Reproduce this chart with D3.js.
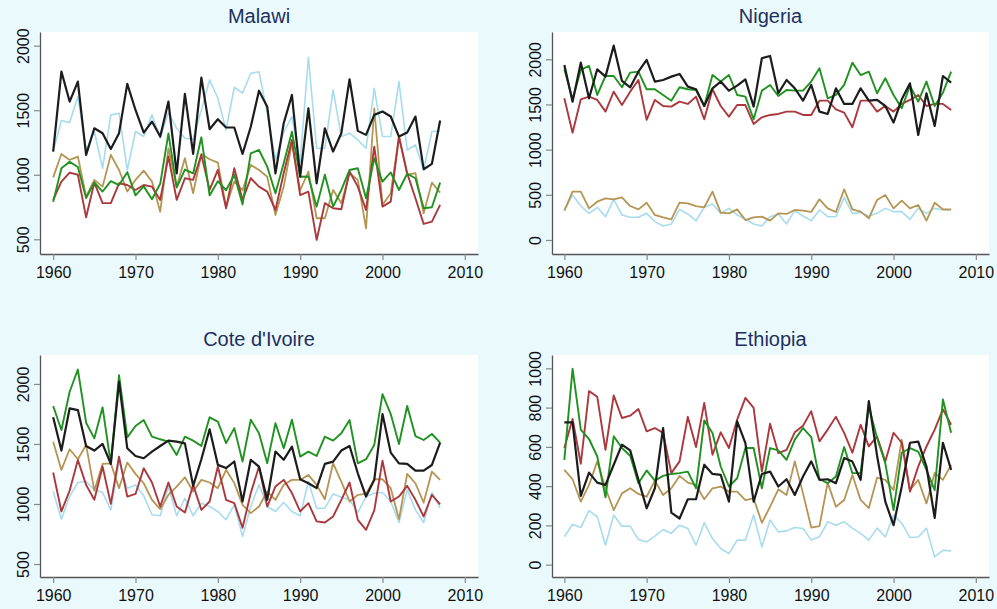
<!DOCTYPE html>
<html><head><meta charset="utf-8">
<script src="https://cdn.jsdelivr.net/npm/d3@7"></script>
<style>
html,body{margin:0;padding:0;background:#eaf9fc;}
svg{display:block;font-family:"Liberation Sans",Arial,Helvetica,sans-serif;}
</style></head><body>
<svg id="chart" width="997" height="609"></svg>
<script>
const years = [1960,1961,1962,1963,1964,1965,1966,1967,1968,1969,
  1970,1971,1972,1973,1974,1975,1976,1977,1978,1979,
  1980,1981,1982,1983,1984,1985,1986,1987,1988,1989,
  1990,1991,1992,1993,1994,1995,1996,1997,1998,1999,
  2000,2001,2002,2003,2004,2005,2006,2007];
const countries = ["Malawi","Nigeria","Cote d'Ivoire","Ethiopia"];
const xTicks = [1960,1970,1980,1990,2000,2010];
const yTicksMalawi = [500,1000,1500,2000];
const yTicksNigeria = [0,500,1000,1500,2000];
const yTicksCote = [500,1000,1500,2000];
const yTicksEthiopia = [0,200,400,600,800,1000];

// Malawi
const malawiBlue = [1180,1420,1404,1606,1192,1335,1050,1464,1477,1037, 1335,1296,1464,1283,1482,1360,1283,1275,1502,1735, 1593,1347,1678,1632,1786,1798,1480,1114,1330,1450, 1100,1910,1205,1205,1658,1296,1322,1270,1205,1670, 1296,1296,1722,1192,1231,1037,1335,1340];
const malawiGold = [980,1161,1115,1141,830,960,908,1154,1037,870, 960,1032,947,714,1205,908,1128,857,1161,1120, 1094,753,947,880,1076,1037,985,688,908,1244, 880,1024,663,663,882,779,1012,960,585,1515, 766,857,1296,1000,1012,702,939,862];
const malawiRed = [805,947,1017,1000,670,939,780,780,934,921, 882,921,908,805,1141,805,973,960,1154,882, 1037,740,1050,805,973,908,869,727,1011,1269, 843,869,495,780,740,733,1025,908,727,1218, 753,792,1296,1012,818,619,637,766];
const malawiGreen = [790,1050,1100,1060,820,940,870,950,920,1020, 840,910,810,930,1320,900,1040,1010,1290,840, 950,880,1000,770,1166,1192,1063,856,1089,1334, 985,986,753,1000,753,882,1037,1050,818,1128, 947,1018,882,1008,973,740,748,939];
const malawiBlack = [1180,1800,1567,1722,1154,1360,1322,1200,1322,1704, 1502,1327,1412,1296,1567,1010,1627,1161,1753,1353, 1430,1366,1366,1161,1372,1651,1527,1011,1399,1618, 985,1515,934,1360,1180,1322,1740,1340,1309,1464, 1490,1451,1296,1327,1451,1043,1084,1420];

// Nigeria
const nigeriaBlue = [325,498,376,295,362,258,450,277,251,251, 295,203,155,177,339,288,214,362,399,295, 350,277,229,177,155,258,288,177,325,266, 214,332,258,258,472,295,303,266,295,350, 314,314,229,350,295,350,332,332];
const nigeriaGold = [325,535,535,350,424,461,450,472,376,339, 413,277,251,229,413,406,376,362,535,303, 295,339,221,251,258,214,295,288,332,325, 310,450,350,310,561,339,314,240,443,498, 350,435,350,387,214,413,339,339];
const nigeriaRed = [1568,1188,1557,1587,1550,1421,1642,1494,1642,1771, 1330,1550,1483,1476,1531,1506,1587,1336,1668,1483, 1365,1494,1494,1284,1358,1384,1395,1421,1421,1384, 1384,1542,1542,1446,1410,1247,1542,1542,1421,1483, 1421,1506,1550,1605,1483,1506,1506,1439];
const nigeriaGreen = [1889,1557,1882,1926,1605,1815,1815,1690,1852,1863, 1668,1668,1605,1542,1690,1668,1660,1483,1826,1753, 1826,1605,1587,1336,1653,1716,1594,1660,1653,1653, 1753,1900,1568,1605,1716,1963,1826,1863,1624,1790, 1605,1458,1705,1531,1753,1483,1631,1863];
const nigeriaBlack = [1937,1531,1963,1568,1889,1808,2151,1760,1690,1863, 1993,1753,1771,1808,1838,1697,1668,1483,1679,1753, 1653,1708,1778,1476,2011,2037,1624,1771,1679,1542, 1716,1421,1395,1679,1506,1506,1679,1542,1550,1483, 1299,1557,1734,1162,1624,1262,1815,1742];

// Cote d'Ivoire
const coteBlue = [1104,874,1062,1179,1187,1118,1096,951,1353,1132, 1159,1068,910,902,1145,902,1048,902,1007,979, 938,869,993,730,979,1160,979,938,1012,938, 902,1187,965,965,1084,1057,1035,929,1062,1090, 1096,1021,846,1118,951,846,1096,965];
const coteGold = [1519,1284,1456,1373,1492,1112,1334,1339,1132,1345, 1251,1173,1035,957,1076,1145,1223,1104,1201,1179, 1132,1285,1174,993,924,979,1104,1035,1160,1201, 1201,1242,1159,1040,1339,1187,1021,1076,1084,1206, 1206,1132,874,1251,1173,1012,1270,1201];
const coteRed = [1262,938,1112,1367,1159,1035,1312,1001,1395,1062, 1084,1298,1179,979,1179,979,929,1159,951,1021, 1312,1035,1007,802,1091,1312,979,1146,1201,1091, 938,1007,855,846,896,1035,1179,868,785,946, 1361,1021,1062,1151,1035,896,1076,996];
const coteGreen = [1816,1616,1935,2120,1677,1547,1805,1334,2073,1555, 1650,1699,1561,1539,1519,1409,1561,1528,1483,1722, 1686,1507,1632,1354,1702,1590,1340,1673,1465,1702, 1395,1436,1400,1561,1528,1589,1699,1339,1373,1492, 1915,1749,1500,1816,1566,1533,1583,1511];
const coteBlack = [1722,1445,1796,1782,1483,1445,1500,1334,2018,1464, 1400,1381,1436,1483,1528,1519,1505,1151,1373,1622, 1326,1299,1354,1021,1368,1312,1035,1437,1368,1478, 1206,1173,1132,1334,1353,1445,1483,1256,1062,1201, 1749,1428,1339,1334,1278,1278,1325,1511];

// Ethiopia
const ethiopiaBlue = [142,206,189,275,244,99,253,196,196,128, 116,145,179,159,201,184,99,213,133,82, 56,125,125,253,90,227,167,172,189,184, 125,142,218,201,218,186,159,125,186,141, 252,211,138,141,186,39,73,70];
const ethiopiaGold = [483,435,321,406,526,389,278,363,389,360, 346,428,355,389,452,418,406,333,389,398, 372,372,329,338,213,295,384,355,526,363, 189,196,418,295,329,457,330,288,443,432, 380,637,380,432,312,467,432,508];
const ethiopiaRed = [594,742,514,884,855,585,862,747,759,793, 679,696,671,466,526,753,599,824,560,674, 594,739,850,799,474,718,568,585,674,708, 782,628,688,753,671,570,713,602,653,525, 672,621,372,500,602,688,791,713];
const ethiopiaGreen = [534,998,688,640,551,343,654,594,555,415, 480,428,452,462,466,474,389,735,671,500, 398,440,594,594,389,594,582,534,637,696, 650,435,415,449,599,466,466,806,645,517, 278,570,593,576,483,380,841,672];
const ethiopiaBlack = [725,725,350,469,418,406,509,611,582,432, 287,389,696,265,235,333,333,509,462,457, 321,730,619,321,462,474,398,435,355,449, 526,432,435,415,543,525,432,833,555,321, 201,398,621,627,500,238,621,483];

const colors = {blue:"#a7dcee", gold:"#b49553", red:"#aa383c", green:"#1f921f", black:"#1c1c1c"};
const widths = {blue:1.6, gold:1.8, red:1.9, green:1.9, black:2.2};

const panelData = {
  "Malawi": {blue:malawiBlue, gold:malawiGold, red:malawiRed, green:malawiGreen, black:malawiBlack, yTicks:yTicksMalawi},
  "Nigeria": {blue:nigeriaBlue, gold:nigeriaGold, red:nigeriaRed, green:nigeriaGreen, black:nigeriaBlack, yTicks:yTicksNigeria},
  "Cote d'Ivoire": {blue:coteBlue, gold:coteGold, red:coteRed, green:coteGreen, black:coteBlack, yTicks:yTicksCote},
  "Ethiopia": {blue:ethiopiaBlue, gold:ethiopiaGold, red:ethiopiaRed, green:ethiopiaGreen, black:ethiopiaBlack, yTicks:yTicksEthiopia}
};
const layout = {
  "Malawi": {left:40, right:478, top:32, bottom:254, xDom:[1958.4,2011.6], yDom:[386,2106], titleY:23},
  "Nigeria": {left:552, right:989, top:32, bottom:254, xDom:[1958.5,2011.6], yDom:[-155,2302], titleY:23},
  "Cote d'Ivoire": {left:40, right:478, top:355, bottom:577, xDom:[1958.4,2011.6], yDom:[392,2241], titleY:346},
  "Ethiopia": {left:552, right:989, top:355, bottom:577, xDom:[1958.5,2011.6], yDom:[-63,1068], titleY:346}
};
const drawOrder = ["blue","gold","red","green","black"];

const svg = d3.select("#chart");
svg.append("rect").attr("width",997).attr("height",609).attr("fill","#eaf9fc");

countries.forEach(name => {
  const L = layout[name], D = panelData[name];
  const x = d3.scaleLinear().domain(L.xDom).range([L.left, L.right]);
  const y = d3.scaleLinear().domain(L.yDom).range([L.bottom, L.top]);
  const g = svg.append("g");
  g.append("rect").attr("x",L.left).attr("y",L.top)
    .attr("width",L.right-L.left).attr("height",L.bottom-L.top).attr("fill","#ffffff");

  g.append("text").attr("x",(L.left+L.right)/2).attr("y",L.titleY)
    .attr("text-anchor","middle").attr("fill","#1e2f5e")
    .style("font-size","20px").text(name);

  const line = d3.line().x((d,i)=>x(years[i])).y(d=>y(d));
  drawOrder.forEach(k => {
    g.append("path").datum(D[k]).attr("d",line)
      .attr("fill","none").attr("stroke",colors[k])
      .attr("stroke-width",widths[k]).attr("stroke-linejoin","round");
  });

  const xa = g.append("g").attr("transform",`translate(0,${L.bottom})`)
    .call(d3.axisBottom(x).tickValues(xTicks).tickFormat(d3.format("d"))
      .tickSize(6).tickSizeOuter(0).tickPadding(7));
  const ya = g.append("g").attr("transform",`translate(${L.left},0)`)
    .call(d3.axisLeft(y).tickValues(D.yTicks).tickFormat(d3.format("d"))
      .tickSize(6).tickSizeOuter(0));
  [xa,ya].forEach(a => {
    a.select(".domain").attr("stroke","#555").attr("stroke-width",1.3);
    a.selectAll(".tick line").attr("stroke","#888").attr("stroke-width",1.2);
    a.selectAll(".tick text").attr("fill","#111").style("font-size","16px")
      .style("font-family",'"Liberation Sans",Arial,sans-serif');
  });
  ya.selectAll(".tick text").attr("transform","rotate(-90)")
    .attr("x",0).attr("y",-11).attr("dy","0").style("text-anchor","middle");
});
</script>
</body></html>
